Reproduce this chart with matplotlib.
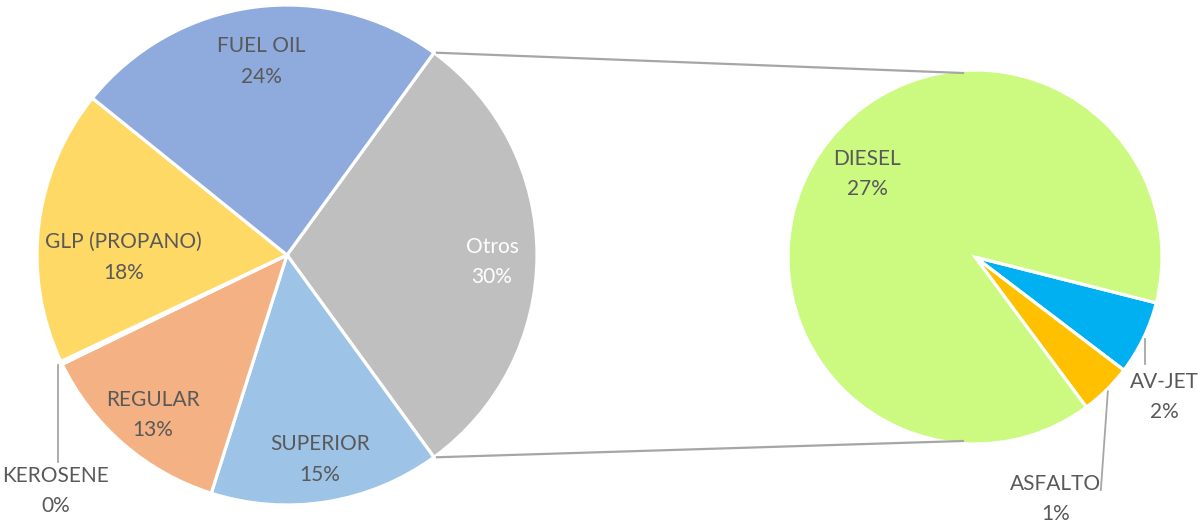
import numpy as np
import matplotlib
matplotlib.use("Agg")
import matplotlib.pyplot as plt

# ---- data (percent of total) ----
main_labels = ["Otros", "SUPERIOR", "REGULAR", "KEROSENE", "GLP (PROPANO)", "FUEL OIL"]
main_values = [30.0, 14.9, 12.9, 0.2, 17.8, 24.2]
main_colors = ["#BFBFBF", "#9DC3E6", "#F4B183", "#C9C9C9", "#FFD966", "#8FAADC"]

sub_labels = ["AV-JET", "ASFALTO", "DIESEL"]
sub_values = [1.92, 1.35, 26.73]
sub_colors = ["#00B0F0", "#FFC000", "#CCF97F"]

total = sum(main_values)
plt.rcParams['font.family'] = ['Lato', 'DejaVu Sans']
TXT = "#595959"
FS = 15
LS = 1.68

W, H = 1204, 523
fig = plt.figure(figsize=(W / 100, H / 100), dpi=100)
ax = fig.add_axes([0, 0, 1, 1])

c1, r1 = (287, H - 255), 250
c2, r2 = (975, H - 257), 187

start1 = 90 - 36.0          # Otros begins 36 deg clockwise from top
w1, _ = ax.pie(main_values, colors=main_colors, startangle=start1, counterclock=False,
               center=c1, radius=r1, frame=True,
               wedgeprops=dict(edgecolor="white", linewidth=2.3))
start2 = 90 - 104.2
w2, _ = ax.pie(sub_values, colors=sub_colors, startangle=start2, counterclock=False,
               center=c2, radius=r2, frame=True,
               wedgeprops=dict(edgecolor="white", linewidth=2.3))

ax.set_xlim(0, W)
ax.set_ylim(0, H)
ax.set_aspect("equal")
ax.axis("off")


def mid_dir(w):
    a = np.deg2rad((w.theta1 + w.theta2) / 2)
    return np.cos(a), np.sin(a)


def pct(v):
    return f"{v / total * 100:.0f}%"


# inside labels for main pie: (radial fraction, extra pixel shift)
inside = {"Otros": (0.82, (0, -7)), "SUPERIOR": (0.83, (0, 0)),
          "REGULAR": (0.82, (0, -5)), "GLP (PROPANO)": (0.66, (0, -22)),
          "FUEL OIL": (0.78, (0, 0))}
for w, lab, v in zip(w1, main_labels, main_values):
    if lab in inside:
        dx, dy = mid_dir(w)
        f, (ox, oy) = inside[lab]
        x, y = c1[0] + dx * r1 * f + ox, c1[1] + dy * r1 * f + oy
        col = "white" if lab == "Otros" else TXT
        ax.text(x, y, f"{lab}\n{pct(v)}", ha="center", va="center", fontsize=FS,
                color=col, linespacing=LS)

# Kerosene outside label with leader
kw = w1[main_labels.index("KEROSENE")]
dx, dy = mid_dir(kw)
px, py = c1[0] + dx * (r1 + 4), c1[1] + dy * (r1 + 4)
ax.plot([px, px], [py, H - 462], color="#A6A6A6", lw=1.3)
ax.text(px - 2, H - 491, f"KEROSENE\n{pct(main_values[3])}", ha="center", va="center",
        fontsize=FS, color=TXT, linespacing=LS)

# sub pie labels
dw = w2[sub_labels.index("DIESEL")]
dx, dy = mid_dir(dw)
ax.text(c2[0] + dx * r2 * 0.74 + 7, c2[1] + dy * r2 * 0.74 + 6,
        f"DIESEL\n{pct(sub_values[2])}", ha="center", va="center", fontsize=FS,
        color=TXT, linespacing=LS)

aw = w2[0]
dx, dy = mid_dir(aw)
px, py = c2[0] + dx * (r2 + 2), c2[1] + dy * (r2 + 2)
ax.plot([px, px], [py, H - 364], color="#A6A6A6", lw=1.3)
ax.text(px + 19, H - 397, f"AV-JET\n{pct(sub_values[0])}", ha="center", va="center",
        fontsize=FS, color=TXT, linespacing=LS)

sw = w2[1]
dx, dy = mid_dir(sw)
px, py = c2[0] + dx * (r2 + 2), c2[1] + dy * (r2 + 2)
ax.plot([px, px - 7], [py, H - 490], color="#A6A6A6", lw=1.3)
ax.text(px - 52, H - 499, f"ASFALTO\n{pct(sub_values[1])}", ha="center", va="center",
        fontsize=FS, color=TXT, linespacing=LS)

# connector lines from "Otros" wedge edges to the secondary pie
ow = w1[0]
for ang, ty in [(ow.theta2, c2[1] + r2 - 3), (ow.theta1, c2[1] - r2 + 3)]:
    a = np.deg2rad(ang)
    x0, y0 = c1[0] + r1 * np.cos(a) + 3, c1[1] + r1 * np.sin(a)
    ax.plot([x0, c2[0] - 12], [y0, ty], color="#A6A6A6", lw=1.6)

fig.savefig("out.png", dpi=100, facecolor="white")
